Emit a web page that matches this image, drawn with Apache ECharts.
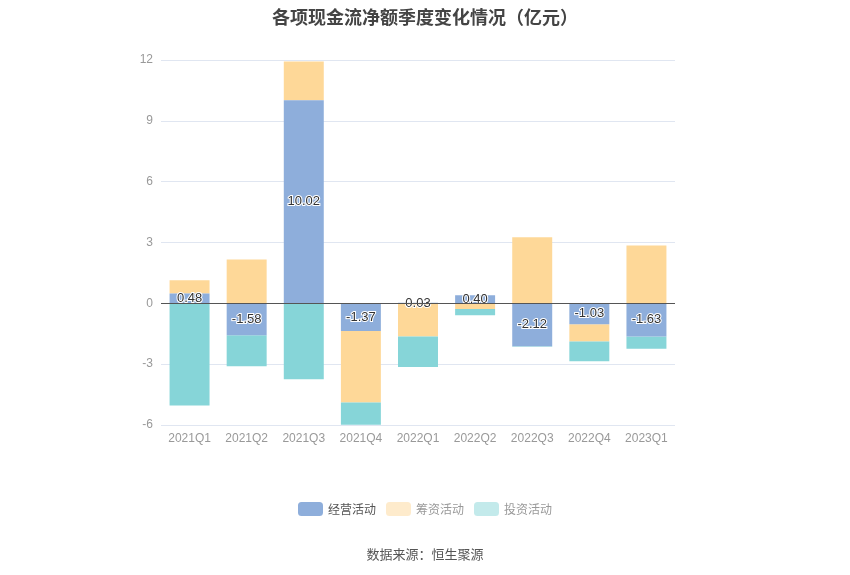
<!DOCTYPE html>
<html>
<head>
<meta charset="utf-8">
<script src="https://cdn.jsdelivr.net/npm/echarts@6/dist/echarts.min.js"></script>
<style>
  html, body { margin: 0; padding: 0; background: #fff; }
  #chart { width: 850px; height: 575px; }
</style>
</head>
<body>
<div id="chart"></div>
<script>
const quarters = ['2021Q1', '2021Q2', '2021Q3', '2021Q4', '2022Q1', '2022Q2', '2022Q3', '2022Q4', '2023Q1'];
const operating = [0.48, -1.58, 10.02, -1.37, 0.03, 0.40, -2.12, -1.03, -1.63];
const financing = [0.66, 2.16, 1.90, -3.52, -1.63, -0.28, 3.26, -0.85, 2.85];
const investing = [-5.04, -1.52, -3.74, -1.10, -1.51, -0.31, -0.02, -0.97, -0.61];
const yTicks = [-6, -3, 0, 3, 6, 9, 12];

const myChart = echarts.init(document.getElementById('chart'));

const option = {
  animation: false,
  title: [
    {
      text: '各项现金流净额季度变化情况（亿元）',
      left: 'center',
      top: 3,
      textStyle: { fontSize: 18, fontWeight: 'bold', color: '#444', fontFamily: 'Noto Sans CJK SC' }
    },
    {
      text: '数据来源：恒生聚源',
      left: 'center',
      top: 543,
      textStyle: { fontSize: 13, fontWeight: 'normal', color: '#555', fontFamily: 'Noto Sans CJK SC' }
    }
  ],
  legend: {
    top: 497,
    left: 'center',
    itemWidth: 25,
    itemHeight: 14,
    itemGap: 10,
    textStyle: { fontSize: 12, color: '#666', fontFamily: 'Noto Sans CJK SC' },
    data: [
      { name: '经营活动', itemStyle: { color: '#8eaedb' }, textStyle: { color: '#555' } },
      { name: '筹资活动', itemStyle: { color: '#feebcc' }, textStyle: { color: '#999' } },
      { name: '投资活动', itemStyle: { color: '#c3eaeb' }, textStyle: { color: '#999' } }
    ]
  },
  grid: { left: 161, right: 175, top: 60, bottom: 150 },
  xAxis: {
    type: 'category',
    data: quarters,
    axisLine: { show: false },
    axisTick: { show: false },
    axisLabel: { color: '#999', fontSize: 12, margin: 8 }
  },
  yAxis: {
    type: 'value',
    min: yTicks[0],
    max: yTicks[yTicks.length - 1],
    interval: 3,
    axisLabel: { color: '#999', fontSize: 12, margin: 8 },
    splitLine: { lineStyle: { color: '#e0e6f1' } },
    axisLine: { show: false }
  },
  series: [
    {
      name: '经营活动',
      type: 'bar',
      stack: 'total',
      barWidth: '70%',
      data: operating,
      itemStyle: { color: '#8eaedb' },
      label: {
        show: true,
        position: 'inside',
        formatter: p => p.value.toFixed(2),
        color: '#333',
        fontSize: 13,
        textBorderColor: '#fff',
        textBorderWidth: 2
      },
      markLine: {
        silent: true,
        symbol: 'none',
        label: { show: false },
        lineStyle: { color: '#555', type: 'solid', width: 1 },
        data: [{ yAxis: 0 }]
      },
      z: 3
    },
    {
      name: '筹资活动',
      type: 'bar',
      stack: 'total',
      data: financing,
      itemStyle: { color: '#fed898' }
    },
    {
      name: '投资活动',
      type: 'bar',
      stack: 'total',
      data: investing,
      itemStyle: { color: '#86d5d8' }
    }
  ]
};

myChart.setOption(option);
window.addEventListener('resize', () => myChart.resize());
</script>
</body>
</html>
